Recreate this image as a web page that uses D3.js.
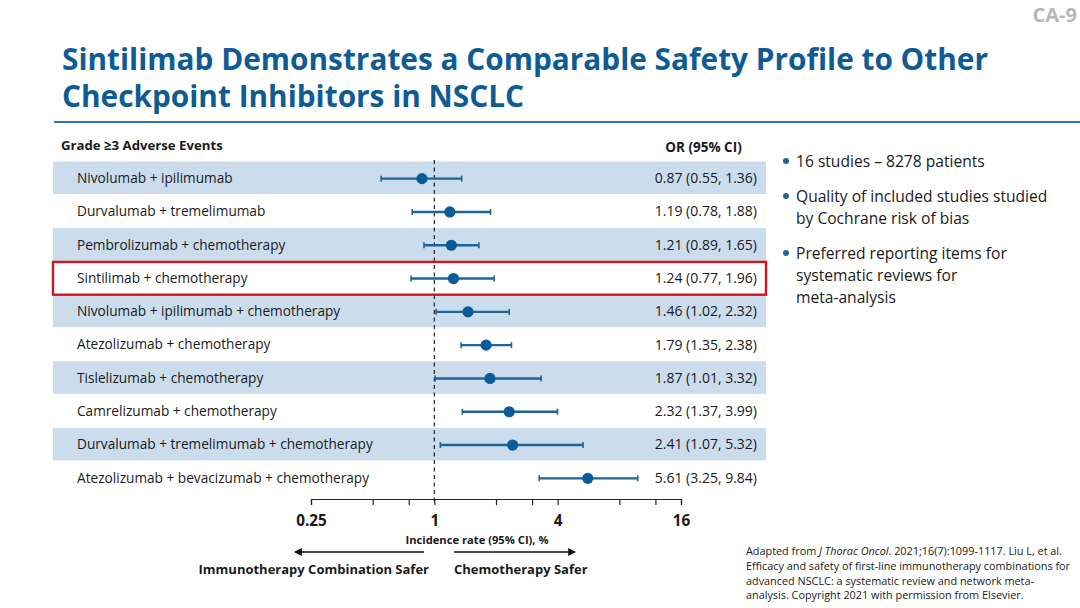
<!DOCTYPE html>
<html>
<head>
<meta charset="utf-8">
<script src="https://cdn.jsdelivr.net/npm/d3@7"></script>
<style>
  html, body { margin: 0; background: #fff; }
  text { font-family: "Open Sans", sans-serif; }
</style>
</head>
<body>
<svg id="chart"></svg>
<script>
const treatments = [
  "Nivolumab + ipilimumab",
  "Durvalumab + tremelimumab",
  "Pembrolizumab + chemotherapy",
  "Sintilimab + chemotherapy",
  "Nivolumab + ipilimumab + chemotherapy",
  "Atezolizumab + chemotherapy",
  "Tislelizumab + chemotherapy",
  "Camrelizumab + chemotherapy",
  "Durvalumab + tremelimumab + chemotherapy",
  "Atezolizumab + bevacizumab + chemotherapy"
];
const orValues = [0.87, 1.19, 1.21, 1.24, 1.46, 1.79, 1.87, 2.32, 2.41, 5.61];
const ciLow = [0.55, 0.78, 0.89, 0.77, 1.02, 1.35, 1.01, 1.37, 1.07, 3.25];
const ciHigh = [1.36, 1.88, 1.65, 1.96, 2.32, 2.38, 3.32, 3.99, 5.32, 9.84];
const tickValues = [0.25, 0.5, 0.75, 1, 2, 3, 4, 8, 12, 16];
const tickLabels = [0.25, 1, 4, 16];
const highlighted = "Sintilimab + chemotherapy";

const titleLines = [
  "Sintilimab Demonstrates a Comparable Safety Profile to Other",
  "Checkpoint Inhibitors in NSCLC"
];
const bullets = [
  ["16 studies – 8278 patients"],
  ["Quality of included studies studied", "by Cochrane risk of bias"],
  ["Preferred reporting items for", "systematic reviews for", "meta-analysis"]
];
const blue = "#0f5c94";
const dark = "#1a1a1a";

const w = 1080;
const h = 608;
const svg = d3.select("#chart").attr("width", w).attr("height", h).style("display", "block");

const x = d3.scaleLog().base(2).domain([0.25, 16]).range([311, 681]);
const y = d3.scaleBand().domain(treatments).range([161.5, 494.5]);

// title and rule
svg.append("text").attr("x", 1077).attr("y", 22).attr("text-anchor", "end")
  .attr("font-size", 20).attr("font-weight", 700).attr("fill", "#b4b8bc").text("CA-9");

svg.selectAll(".title").data(titleLines).enter().append("text")
  .attr("class", "title")
  .attr("x", 62)
  .attr("y", (d, i) => 70 + i * 37)
  .attr("font-size", 29.8)
  .attr("font-weight", 700)
  .attr("fill", blue)
  .text((d) => d);

svg.append("rect").attr("x", 54).attr("y", 121).attr("width", 1026).attr("height", 2).attr("fill", "#2f78a8");

// header row
svg.append("text").attr("x", 61).attr("y", 150).attr("font-size", 13.2).attr("font-weight", 700)
  .attr("fill", dark).text("Grade ≥3 Adverse Events");
svg.append("text").attr("x", 703.5).attr("y", 152).attr("text-anchor", "middle").attr("font-size", 13.5)
  .attr("font-weight", 700).attr("fill", dark).text("OR (95% CI)");

// shaded bands on alternate rows
svg.selectAll(".band").data(treatments.filter((d, i) => i % 2 === 0)).enter().append("rect")
  .attr("class", "band")
  .attr("x", 53)
  .attr("y", (d) => y(d))
  .attr("width", 713)
  .attr("height", y.bandwidth() - 0.8)
  .attr("fill", "#cbdcec");

// axis
const axis = d3.axisBottom(x)
  .tickValues(tickValues)
  .tickSize(6)
  .tickPadding(10)
  .tickFormat((d) => (tickLabels.includes(d) ? d : ""));

const axisG = svg.append("g").attr("transform", "translate(0, 499)").call(axis);
axisG.selectAll("path, line").attr("stroke", "#222").attr("stroke-width", 1.2);
axisG.selectAll("text").attr("font-size", 15.3).attr("font-weight", 700)
  .attr("font-family", '"Open Sans", sans-serif').attr("fill", dark);

// reference line at 1
svg.append("line")
  .attr("x1", x(1)).attr("x2", x(1))
  .attr("y1", 160).attr("y2", 505)
  .attr("stroke", "#222").attr("stroke-width", 1.2).attr("stroke-dasharray", "4 3.5");

// row labels and OR text
svg.selectAll(".name").data(treatments).enter().append("text")
  .attr("class", "name")
  .attr("x", 77)
  .attr("y", (d) => y(d) + y.bandwidth() / 2)
  .attr("dy", "0.35em")
  .attr("font-size", 13.65)
  .attr("fill", dark)
  .text((d) => d);

svg.selectAll(".or").data(treatments).enter().append("text")
  .attr("class", "or")
  .attr("x", 757)
  .attr("y", (d) => y(d) + y.bandwidth() / 2)
  .attr("dy", "0.35em")
  .attr("text-anchor", "end")
  .attr("font-size", 14)
  .attr("fill", dark)
  .text((d, i) => `${orValues[i].toFixed(2)} (${ciLow[i].toFixed(2)}, ${ciHigh[i].toFixed(2)})`);

// CI whiskers and points
const rows = svg.selectAll(".row").data(treatments).enter().append("g")
  .attr("class", "row")
  .attr("transform", (d) => `translate(0, ${y(d) + y.bandwidth() / 2 + 0.5})`);

rows.append("line")
  .attr("x1", (d, i) => x(ciLow[i]))
  .attr("x2", (d, i) => x(ciHigh[i]))
  .attr("stroke", "#1f6397").attr("stroke-width", 2.4);
rows.append("line")
  .attr("x1", (d, i) => x(ciLow[i])).attr("x2", (d, i) => x(ciLow[i]))
  .attr("y1", -3).attr("y2", 3)
  .attr("stroke", "#1f6397").attr("stroke-width", 1.6);
rows.append("line")
  .attr("x1", (d, i) => x(ciHigh[i])).attr("x2", (d, i) => x(ciHigh[i]))
  .attr("y1", -3).attr("y2", 3)
  .attr("stroke", "#1f6397").attr("stroke-width", 1.6);
rows.append("circle")
  .attr("cx", (d, i) => x(orValues[i]))
  .attr("r", 5.6)
  .attr("fill", "#0b5a9a");

// highlight box
svg.append("rect")
  .attr("x", 53)
  .attr("y", y(highlighted) + 0.5)
  .attr("width", 713)
  .attr("height", y.bandwidth() - 0.5)
  .attr("fill", "none")
  .attr("stroke", "#d3131f")
  .attr("stroke-width", 2.4);

// below the axis
svg.append("text").attr("x", 477).attr("y", 544).attr("text-anchor", "middle").attr("font-size", 11.2)
  .attr("font-weight", 700).attr("fill", dark).text("Incidence rate (95% CI), %");

svg.append("defs").append("marker")
  .attr("id", "arrow").attr("viewBox", "0 0 8 8").attr("refX", 7).attr("refY", 4)
  .attr("markerWidth", 6).attr("markerHeight", 6).attr("orient", "auto-start-reverse")
  .append("path").attr("d", "M0,0L8,4L0,8Z").attr("fill", "#111");

svg.append("line").attr("x1", 424).attr("x2", 295).attr("y1", 552).attr("y2", 552)
  .attr("stroke", "#111").attr("stroke-width", 1.3).attr("marker-end", "url(#arrow)");
svg.append("line").attr("x1", 454).attr("x2", 575).attr("y1", 552).attr("y2", 552)
  .attr("stroke", "#111").attr("stroke-width", 1.3).attr("marker-end", "url(#arrow)");

svg.append("text").attr("x", 429).attr("y", 574).attr("text-anchor", "end").attr("font-size", 13)
  .attr("font-weight", 700).attr("fill", dark).text("Immunotherapy Combination Safer");
svg.append("text").attr("x", 454).attr("y", 574).attr("font-size", 13)
  .attr("font-weight", 700).attr("fill", dark).text("Chemotherapy Safer");

// right column bullets
const bulletTops = [167, 202, 259];
bullets.forEach((lines, b) => {
  svg.append("circle").attr("cx", 786).attr("cy", bulletTops[b] - 6).attr("r", 3).attr("fill", "#1f6397");
  lines.forEach((line, i) => {
    svg.append("text").attr("x", 796).attr("y", bulletTops[b] + i * 22)
      .attr("font-size", 15.6).attr("fill", dark).text(line);
  });
});

// source note
const note = svg.append("g").attr("font-size", 10.85).attr("fill", dark);
const first = note.append("text").attr("x", 746).attr("y", 555);
first.append("tspan").text("Adapted from ");
first.append("tspan").attr("font-style", "italic").text("J Thorac Oncol");
first.append("tspan").text(". 2021;16(7):1099-1117. Liu L, et al.");
note.append("text").attr("x", 746).attr("y", 570).text("Efficacy and safety of first-line immunotherapy combinations for");
note.append("text").attr("x", 746).attr("y", 584.5).text("advanced NSCLC: a systematic review and network meta-");
note.append("text").attr("x", 746).attr("y", 599).text("analysis. Copyright 2021 with permission from Elsevier.");
</script>
</body>
</html>
